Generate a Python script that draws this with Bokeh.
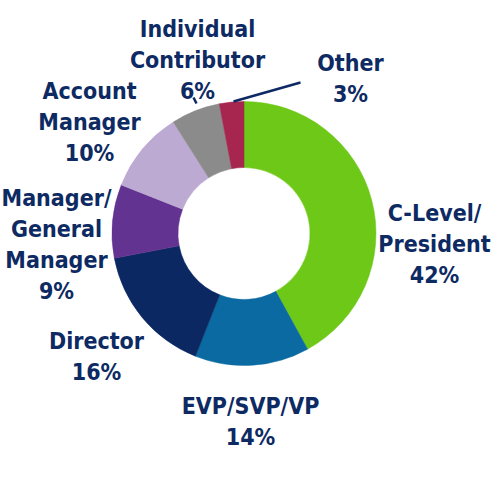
import math
from bokeh.plotting import figure
from bokeh.models import Range1d
from bokeh.core.properties import value
from bokeh.embed import file_html
from bokeh.resources import INLINE

# ---- data ----
categories = ["C-Level/\nPresident", "EVP/SVP/VP", "Director", "Manager/\nGeneral\nManager",
              "Account\nManager", "Individual\nContributor", "Other"]
shares = [42, 14, 16, 9, 10, 6, 3]
colors = ["#6dc817", "#0a6aa1", "#0b2862", "#633391", "#bcaad3", "#8a8b8a", "#a6264f"]

TEXT_COLOR = "#0d2a63"
FONT = "DejaVu Sans Condensed"
FS = "23px"

W = H = 500
p = figure(width=W, height=H, output_backend="svg", toolbar_location=None,
           x_range=Range1d(0, W), y_range=Range1d(0, H),
           min_border=0, outline_line_color=None)
p.axis.visible = False
p.grid.visible = False
p.background_fill_color = "white"
p.border_fill_color = "white"

cx, cy = 243.5, 500 - 233
R_out, R_in = 132, 66
total = sum(shares)
starts, ends = [], []
cum = 0
for v in shares:
    starts.append(math.pi / 2 - 2 * math.pi * cum / total)
    cum += v
    ends.append(math.pi / 2 - 2 * math.pi * cum / total)

p.annular_wedge(x=[cx] * len(shares), y=[cy] * len(shares), inner_radius=R_in, outer_radius=R_out,
                start_angle=starts, end_angle=ends, direction="clock",
                fill_color=colors, line_color=colors, line_width=0.5)

# label anchors (page px): center x, baseline of first line
anchors = [(434, 212), (250, 405), (96, 340), (56, 197), (89, 90), (197, 28), (350, 62)]
LINE = 31
xs, ys, ts = [], [], []
for cat, v, (ax, ay) in zip(categories, shares, anchors):
    lines = cat.split("\n") + [f"{v}%"]
    for i, ln in enumerate(lines):
        xs.append(ax)
        ys.append(500 - (ay + i * LINE))
        ts.append(ln)
p.text(x=xs, y=ys, text=ts, text_align="center", text_baseline="alphabetic",
       text_font=value(FONT), text_font_style="bold", text_font_size=FS, text_color=TEXT_COLOR)

# leader lines
p.segment(x0=[193, 233], y0=[500 - 97, 500 - 101], x1=[196, 300], y1=[500 - 103, 500 - 82],
          line_color=TEXT_COLOR, line_width=2.5)

open("out.html", "w").write(file_html(p, INLINE))
